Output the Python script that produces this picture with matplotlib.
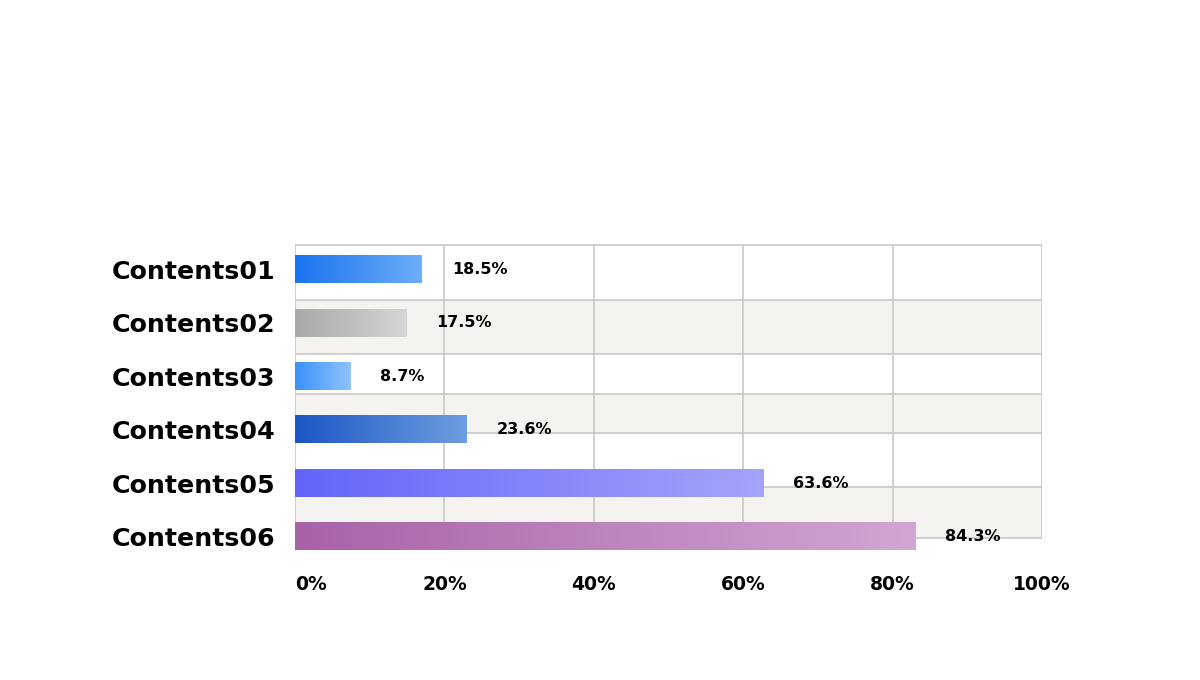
import numpy as np
import matplotlib
matplotlib.use("Agg")
import matplotlib.pyplot as plt
from matplotlib.colors import LinearSegmentedColormap

# ── data ─────────────────────────────────────────────────────────────
categories = ["Contents01", "Contents02", "Contents03", "Contents04", "Contents05", "Contents06"]
bar_values = [17.0, 14.9, 7.4, 23.0, 62.7, 83.0]          # bar lengths as drawn
value_labels = ["18.5%", "17.5%", "8.7%", "23.6%", "63.6%", "84.3%"]
x_ticks = [0, 20, 40, 60, 80, 100]
x_tick_labels = ["0%", "20%", "40%", "60%", "80%", "100%"]

# gradient start / end colours per bar
grad_start = ["#1a73f0", "#a8a8a8", "#3a92f8", "#1a56c4", "#6464fa", "#a862a8"]
grad_end = ["#6cadf8", "#d6d6d6", "#8ec4fb", "#6f9edf", "#a4a4fb", "#d2a6d2"]

# ── layout (background table rows, in bar-index units) ───────────────
row_edges = [-0.46, 0.58, 1.58, 2.33, 3.06, 4.07, 5.03]
row_fill = ["white", "#f4f3ef", "white", "#f4f3ef", "white", "#f4f3ef"]
grid_color = "#c8c8c8"
bar_h = 0.51

fig = plt.figure(figsize=(12, 6.8), dpi=100)
ax = fig.add_axes([295 / 1200, 1 - 560 / 680, (1042 - 295) / 1200, 320 / 680])

y = np.arange(len(categories))

# row bands + horizontal lines
for i in range(len(row_fill)):
    ax.axhspan(row_edges[i], row_edges[i + 1], xmin=0, xmax=1,
               facecolor=row_fill[i], edgecolor="none", zorder=0)
ax.hlines(row_edges, 0, 100, colors=grid_color, linewidth=1.2, zorder=1)
ax.vlines(x_ticks, row_edges[0], row_edges[-1], colors=grid_color, linewidth=1.2, zorder=1)

# gradient bars
grad = np.linspace(0, 1, 256).reshape(1, -1)
for yi, v, c0, c1 in zip(y, bar_values, grad_start, grad_end):
    cmap = LinearSegmentedColormap.from_list("g", [c0, c1])
    ax.imshow(grad, cmap=cmap, aspect="auto", interpolation="bicubic",
              extent=[0, v, yi + bar_h / 2, yi - bar_h / 2], zorder=2)
    ax.text(v + 4.0, yi, value_labels[yi], ha="left", va="center",
            fontsize=11.5, fontweight="bold", color="black",
            family="DejaVu Sans", zorder=3)

ax.set_xlim(0, 100)
ax.set_ylim(5.44, -0.552)

ax.set_yticks(y)
ax.set_yticklabels(categories, fontsize=18.2, fontweight="bold",
                   family="DejaVu Sans", color="black")
ax.set_xticks(x_ticks)
ax.set_xticklabels(x_tick_labels, fontsize=13.5, fontweight="bold",
                   family="DejaVu Sans", color="black")
ax.xaxis.get_ticklabels()[0].set_horizontalalignment("left")
ax.tick_params(axis="y", length=0, pad=14)
ax.tick_params(axis="x", length=0, pad=11)

for s in ax.spines.values():
    s.set_visible(False)

fig.savefig("out.png", dpi=100, facecolor="white")
